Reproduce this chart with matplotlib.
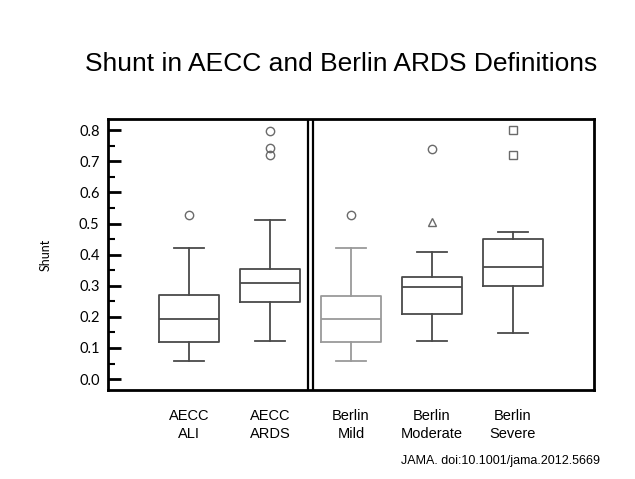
import matplotlib
matplotlib.use("Agg")
import matplotlib.pyplot as plt
from matplotlib.ticker import MultipleLocator

categories = ["AECC\nALI", "AECC\nARDS", "Berlin\nMild", "Berlin\nModerate", "Berlin\nSevere"]
whislo = [0.059, 0.121, 0.059, 0.121, 0.149]
q1 = [0.120, 0.248, 0.119, 0.209, 0.300]
med = [0.193, 0.309, 0.193, 0.295, 0.359]
q3 = [0.269, 0.355, 0.268, 0.327, 0.449]
whishi = [0.421, 0.511, 0.421, 0.407, 0.472]
outliers = [[0.528], [0.798, 0.742, 0.720], [0.528], [0.740, 0.506], [0.800, 0.720]]
outlier_markers = [["o"], ["o", "o", "o"], ["o"], ["o", "^"], ["s", "s"]]
box_colors = ["#4a4a4a", "#4a4a4a", "#9a9a9a", "#4a4a4a", "#4a4a4a"]

fig = plt.figure(figsize=(6.35, 4.79), dpi=100)
ax = fig.add_axes([0.170, 0.1858, 0.7654, 0.5658])

positions = list(range(1, len(categories) + 1))
for i, pos in enumerate(positions):
    stats = [dict(whislo=whislo[i], q1=q1[i], med=med[i], q3=q3[i], whishi=whishi[i], fliers=[])]
    c = box_colors[i]
    lp = dict(color=c, linewidth=1.3)
    ax.bxp(stats, positions=[pos], widths=0.74, showfliers=False,
           boxprops=lp, medianprops=lp, whiskerprops=lp, capprops=lp,
           manage_ticks=False)
    for v, m in zip(outliers[i], outlier_markers[i]):
        ax.plot(pos, v, marker=m, markersize=6, markerfacecolor="none",
                markeredgecolor="#6a6a6a", markeredgewidth=1.0, linestyle="none")

ax.set_xlim(0, 6)
ax.set_ylim(-0.035, 0.836)

# double divider line
ax.axvline(2.47, color="black", linewidth=1.6)
ax.axvline(2.53, color="black", linewidth=1.6)

for s in ax.spines.values():
    s.set_linewidth(2.0)
    s.set_color("black")

ax.yaxis.set_minor_locator(MultipleLocator(0.05))
ax.set_yticks([0.0, 0.1, 0.2, 0.3, 0.4, 0.5, 0.6, 0.7, 0.8])
ax.set_yticklabels(["0.0", "0.1", "0.2", "0.3", "0.4", "0.5", "0.6", "0.7", "0.8"])
for lab in ax.get_yticklabels():
    lab.set_fontfamily("Lato")
    lab.set_fontsize(10.5)
ax.tick_params(axis="y", which="major", direction="in", length=9, width=2.0, pad=6)
ax.tick_params(axis="y", which="minor", direction="in", length=5, width=1.5)

ax.set_xticks(positions)
ax.set_xticklabels(categories)
ax.set_xticks([3], minor=True)
ax.tick_params(axis="x", which="major", length=0, pad=14)
ax.tick_params(axis="x", which="minor", direction="in", length=9, width=2.0)
for lab in ax.get_xticklabels():
    lab.set_fontfamily("Liberation Sans")
    lab.set_fontsize(10.5)
    lab.set_linespacing(1.3)

ax.set_ylabel("Shunt", fontfamily="Lato", fontsize=9, labelpad=20)

fig.text(0.537, 0.866, "Shunt in AECC and Berlin ARDS Definitions",
         ha="center", va="center", fontfamily="Liberation Sans", fontsize=19)
fig.text(0.945, 0.038, "JAMA. doi:10.1001/jama.2012.5669",
         ha="right", va="center", fontfamily="Liberation Sans", fontsize=9)

fig.savefig("out.png", dpi=100)
